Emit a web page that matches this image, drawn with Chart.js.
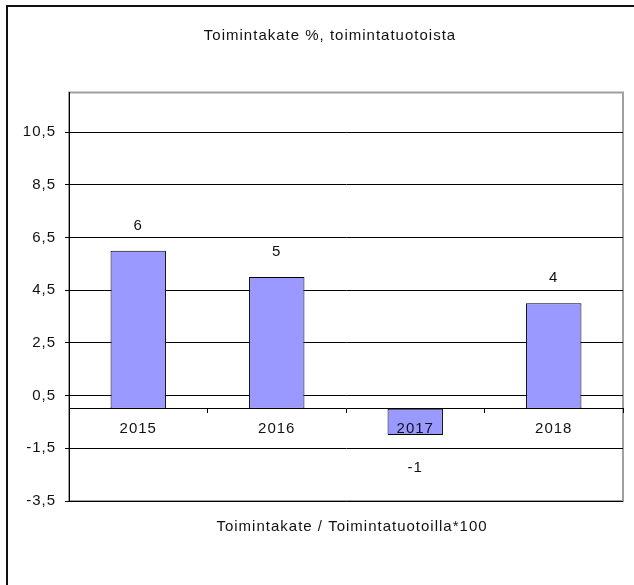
<!DOCTYPE html>
<html>
<head>
<meta charset="utf-8">
<script src="https://cdn.jsdelivr.net/npm/chart.js@4/dist/chart.umd.min.js"></script>
<style>
  html, body { margin: 0; padding: 0; background: #fff; }
  canvas { display: block; }
</style>
</head>
<body>
<canvas id="myChart" width="634" height="585"></canvas>
<script>
// data
const years = ['2015', '2016', '2017', '2018'];
const toimintakate = [6, 5, -1, 4];
const yTicks = [-3.5, -1.5, 0.5, 2.5, 4.5, 6.5, 8.5, 10.5];

const chartTitle = 'Toimintakate %, toimintatuotoista';
const axisCaption = 'Toimintakate / Toimintatuotoilla*100';

const FONT = '"Liberation Sans", Arial, sans-serif';
const SPACING = '1px';

// letter spacing, the original text is a bit wide
const spacing = {
  id: 'spacing',
  beforeUpdate(chart) { chart.ctx.letterSpacing = SPACING; },
  beforeDraw(chart) { chart.ctx.letterSpacing = SPACING; }
};

// frame of the whole chart and the gray plot area border
const frame = {
  id: 'frame',
  beforeDraw(chart) {
    const { ctx, chartArea: a } = chart;
    ctx.save();
    ctx.strokeStyle = '#111';
    ctx.lineWidth = 2;
    ctx.beginPath();
    ctx.moveTo(7, 600);
    ctx.lineTo(7, 6);
    ctx.lineTo(650, 6);
    ctx.stroke();

    ctx.strokeStyle = '#a0a0a0';
    ctx.lineWidth = 2;
    ctx.strokeRect(a.left, a.top, a.right - a.left, a.bottom - a.top);
    ctx.restore();
  }
};

// title, value labels and the caption under the plot
const texts = {
  id: 'texts',
  afterDraw(chart) {
    const { ctx, chartArea: a } = chart;
    const meta = chart.getDatasetMeta(0);
    ctx.save();
    ctx.letterSpacing = SPACING;
    ctx.font = '15px ' + FONT;
    ctx.fillStyle = '#111';
    ctx.textAlign = 'center';
    ctx.textBaseline = 'middle';
    ctx.fillText(chartTitle, 330, 36);
    meta.data.forEach((bar, i) => {
      const v = toimintakate[i];
      const y = v >= 0 ? bar.y - 25 : bar.y + 33;
      ctx.fillText(String(v), bar.x, y);
    });
    ctx.fillText(axisCaption, 352, a.bottom + 26);
    ctx.restore();
  }
};

const ctx = document.getElementById('myChart');

new Chart(ctx, {
  type: 'bar',
  data: {
    labels: years,
    datasets: [{
      data: toimintakate,
      backgroundColor: '#9999ff',
      borderColor: '#000',
      borderWidth: 1,
      borderSkipped: false,
      barPercentage: 0.4,
      categoryPercentage: 1
    }]
  },
  options: {
    responsive: false,
    animation: false,
    devicePixelRatio: 1,
    layout: {
      padding: { left: 0, right: 11, top: 92.5, bottom: 84 }
    },
    scales: {
      x: {
        position: { y: 0 },
        grid: {
          display: true,
          drawOnChartArea: false,
          drawTicks: true,
          tickLength: 4,
          offset: true,
          color: '#000',
          z: 1
        },
        border: { display: true, color: '#000', width: 1, z: 1 },
        ticks: {
          z: 1,
          padding: 7,
          color: '#111',
          font: { family: FONT, size: 15 }
        }
      },
      y: {
        min: -3.5,
        max: 12,
        afterBuildTicks(scale) {
          scale.ticks = yTicks.map(v => ({ value: v }));
        },
        afterFit(scale) {
          scale.width = 69;
        },
        grid: {
          color: '#000',
          lineWidth: 1,
          tickLength: 4
        },
        border: { display: true, color: '#000', width: 1 },
        ticks: {
          padding: 9,
          color: '#111',
          font: { family: FONT, size: 15 },
          callback: v => String(v).replace('.', ',')
        }
      }
    },
    plugins: {
      legend: { display: false },
      tooltip: { enabled: false },
      title: { display: false }
    }
  },
  plugins: [spacing, frame, texts]
});
</script>
</body>
</html>
